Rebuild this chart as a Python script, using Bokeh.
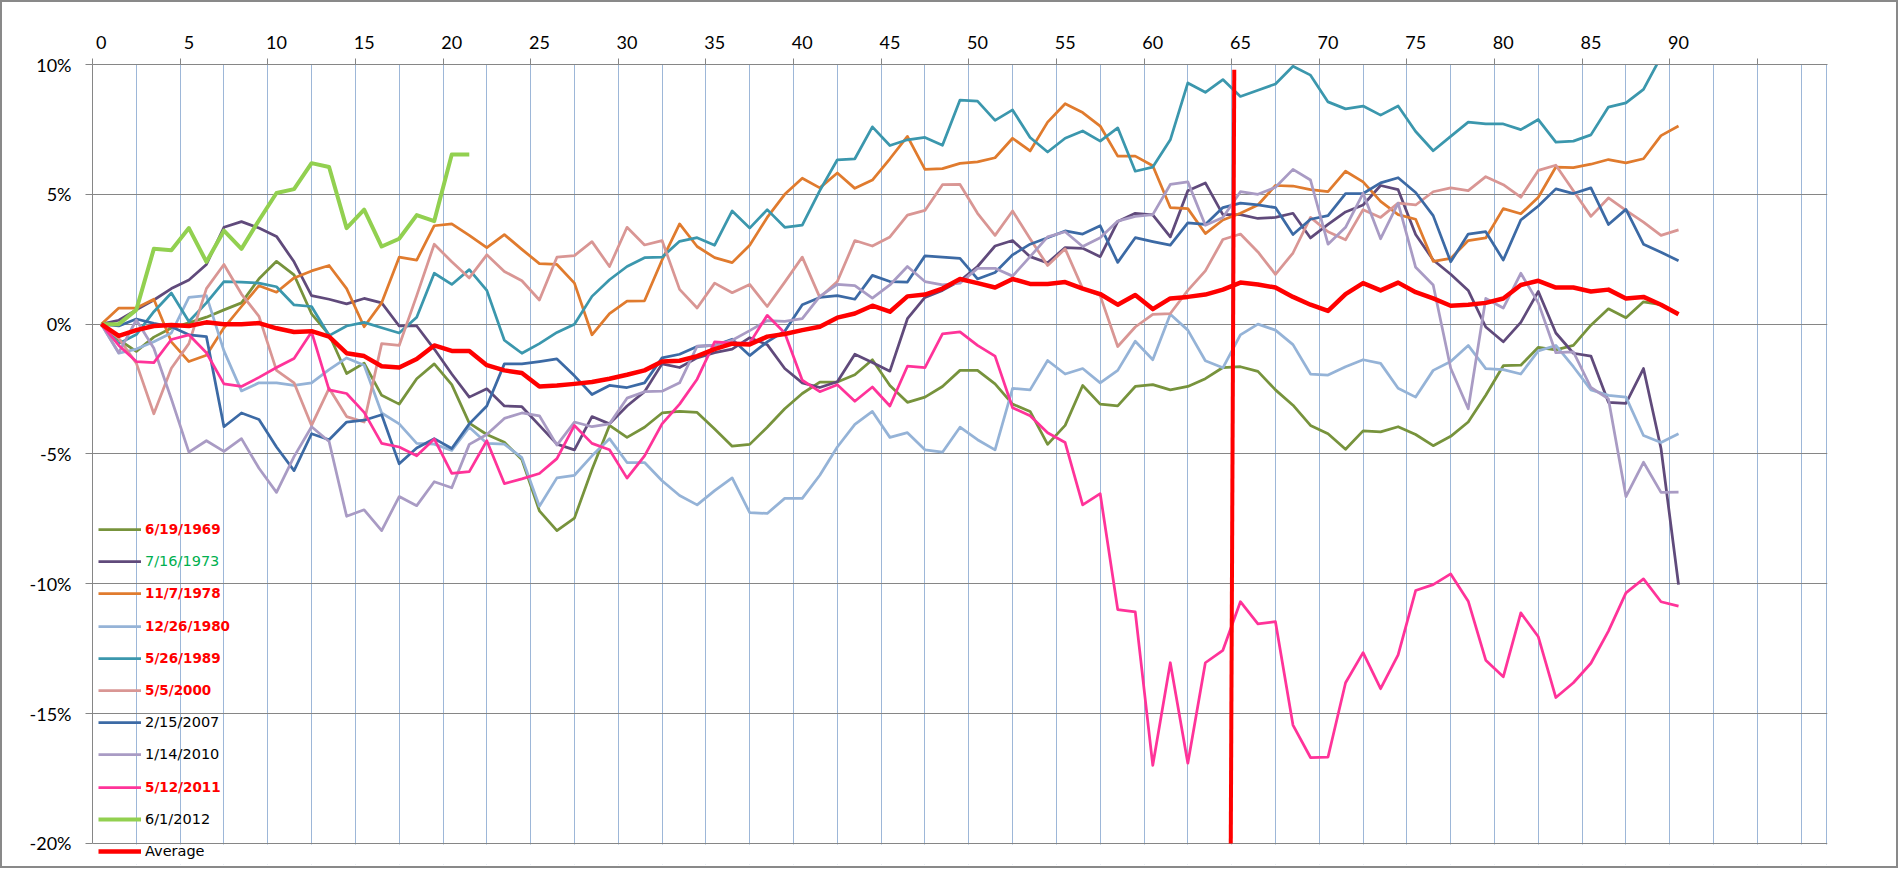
from bokeh.plotting import figure
from bokeh.layouts import column
from bokeh.models import Range1d, FixedTicker, Legend, LegendItem, BoxAnnotation
from bokeh.embed import file_html
from bokeh.resources import INLINE

# trading days after the start date
days = list(range(91))

# percent change from the start date
s1969 = [0, -0.6, -1.05, -0.5, -0.15, 0.05, 0.27, 0.55, 0.82, 1.75, 2.42, 1.9, 0.4, -0.4, -1.9, -1.5,
         -2.74, -3.08, -2.1, -1.53, -2.33, -3.81, -4.25, -4.55, -5.21, -7.19, -7.95, -7.47, -5.6, -3.9,
         -4.36, -3.97, -3.42, -3.36, -3.4, -4.04, -4.7, -4.63, -3.97, -3.26, -2.67, -2.23, -2.23, -1.95,
         -1.37, -2.36, -3.01, -2.81, -2.4, -1.78, -1.78, -2.3, -3.08, -3.36, -4.63, -3.9, -2.36, -3.08,
         -3.15, -2.4, -2.33, -2.53, -2.4, -2.1, -1.67, -1.64, -1.82, -2.53, -3.12, -3.9, -4.22, -4.82,
         -4.11, -4.15, -3.95, -4.25, -4.68, -4.32, -3.77, -2.74, -1.6, -1.58, -0.89, -0.99, -0.82, -0.04,
         0.59, 0.25, 0.86, 0.75, 0.41]
s1973 = [0, 0.15, 0.55, 0.93, 1.37, 1.7, 2.3, 3.73, 3.95, 3.7, 3.38, 2.4, 1.1, 0.96, 0.78, 0.99, 0.82,
         -0.07, -0.07, -0.96, -1.92, -2.81, -2.49, -3.15, -3.18, -3.9, -4.62, -4.84, -3.56, -3.84, -3.15,
         -2.6, -1.53, -1.67, -1.3, -1.1, -0.96, -0.52, -0.79, -1.71, -2.26, -2.44, -2.22, -1.16, -1.48,
         -1.81, 0.21, 1.03, 1.3, 1.67, 2.22, 3.01, 3.22, 2.6, 2.36, 2.95, 2.92, 2.6, 3.95, 4.27, 4.21,
         3.36, 5.14, 5.44, 4.22, 4.22, 4.07, 4.11, 4.27, 3.32, 3.84, 4.32, 4.59, 5.34, 5.18, 3.45, 2.47,
         1.92, 1.3, -0.11, -0.68, 0.07, 1.26, -0.34, -1.12, -1.23, -3.01, -3.05, -1.71, -4.79, -10.03]
s1978 = [0, 0.62, 0.62, 0.96, -0.68, -1.44, -1.2, -0.14, 0.68, 1.48, 1.23, 1.78, 2.05, 2.26, 1.37, -0.1,
         0.82, 2.58, 2.47, 3.79, 3.86, 3.42, 2.95, 3.45, 2.88, 2.33, 2.3, 1.58, -0.41, 0.41, 0.89, 0.9,
         2.47, 3.86, 2.99, 2.56, 2.37, 3.04, 4.11, 5.0, 5.62, 5.25, 5.82, 5.23, 5.55, 6.37, 7.23, 5.96,
         5.99, 6.19, 6.25, 6.41, 7.16, 6.67, 7.78, 8.49, 8.15, 7.63, 6.47, 6.47, 6.1, 4.49, 4.45, 3.49,
         4.01, 4.27, 4.59, 5.34, 5.32, 5.18, 5.1, 5.89, 5.48, 4.73, 4.22, 4.04, 2.42, 2.53, 3.22, 3.32,
         4.45, 4.25, 4.89, 6.05, 6.03, 6.16, 6.34, 6.21, 6.37, 7.26, 7.63]
s1980 = [0, -1.12, -0.96, -0.68, -0.34, 1.03, 1.1, -1.03, -2.57, -2.26, -2.26, -2.36, -2.26, -1.75, -1.3,
         -1.58, -3.42, -3.84, -4.59, -4.62, -4.86, -3.97, -4.59, -4.62, -5.14, -7.01, -5.92, -5.82, -5.07,
         -4.41, -5.33, -5.33, -6.03, -6.6, -6.96, -6.41, -5.92, -7.26, -7.29, -6.71, -6.71, -5.82, -4.73,
         -3.86, -3.36, -4.36, -4.18, -4.84, -4.93, -3.97, -4.45, -4.84, -2.47, -2.53, -1.4, -1.92, -1.71,
         -2.26, -1.78, -0.66, -1.37, 0.38, -0.23, -1.41, -1.68, -0.41, 0.0, -0.23, -0.79, -1.92, -1.96,
         -1.64, -1.37, -1.51, -2.47, -2.81, -1.78, -1.44, -0.82, -1.71, -1.75, -1.92, -1.03, -0.82, -1.64,
         -2.53, -2.74, -2.81, -4.29, -4.56, -4.22]
s1989 = [0, -0.75, -0.4, 0.48, 1.2, 0.1, 0.82, 1.64, 1.62, 1.58, 1.44, 0.74, 0.68, -0.44, -0.07, 0.07,
         -0.14, -0.34, 0.27, 1.96, 1.53, 2.1, 1.3, -0.62, -1.12, -0.75, -0.32, 0.0, 1.07, 1.71, 2.22, 2.56,
         2.58, 3.19, 3.33, 3.04, 4.36, 3.7, 4.41, 3.73, 3.81, 5.14, 6.33, 6.37, 7.6, 6.88, 7.1, 7.19, 6.89,
         8.63, 8.59, 7.85, 8.25, 7.19, 6.63, 7.16, 7.44, 7.05, 7.56, 5.89, 6.05, 7.1, 9.29, 8.93, 9.42,
         8.77, 9.01, 9.25, 9.93, 9.59, 8.56, 8.29, 8.4, 8.05, 8.4, 7.42, 6.68, 7.23, 7.78, 7.71, 7.71,
         7.49, 7.88, 7.01, 7.05, 7.29, 8.36, 8.52, 9.04, 10.3, 10.9]
s2000 = [0, -0.55, -1.5, -3.45, -1.7, -0.75, 1.37, 2.3, 1.16, 0.3, -1.78, -2.26, -3.9, -2.47, -3.56, -3.77,
         -0.75, -0.82, 1.1, 3.08, 2.4, 1.78, 2.67, 2.03, 1.67, 0.93, 2.58, 2.64, 3.18, 2.22, 3.73, 3.05,
         3.22, 1.34, 0.62, 1.58, 1.21, 1.53, 0.68, 1.62, 2.58, 1.03, 1.64, 3.22, 3.01, 3.36, 4.2, 4.38,
         5.37, 5.38, 4.27, 3.42, 4.36, 3.29, 2.26, 2.9, 1.37, 1.1, -0.86, -0.11, 0.38, 0.41, 1.3, 2.05,
         3.26, 3.47, 2.78, 1.92, 2.74, 4.11, 3.56, 3.25, 4.41, 4.11, 4.66, 4.59, 5.1, 5.25, 5.14, 5.68,
         5.37, 4.89, 5.92, 6.12, 5.14, 4.15, 4.86, 4.38, 3.93, 3.42, 3.63]
s2007 = [0, -0.07, 0.2, 0.03, -0.1, -0.41, -0.48, -3.95, -3.42, -3.67, -4.73, -5.64, -4.22, -4.45, -3.77,
         -3.7, -3.49, -5.38, -4.77, -4.41, -4.79, -3.84, -3.15, -1.53, -1.53, -1.44, -1.34, -1.99, -2.71,
         -2.36, -2.44, -2.26, -1.3, -1.16, -0.86, -0.82, -0.58, -1.21, -0.68, -0.27, 0.75, 1.03, 1.1, 0.96,
         1.88, 1.64, 1.62, 2.63, 2.58, 2.53, 1.74, 1.99, 2.67, 3.08, 3.33, 3.59, 3.47, 3.79, 2.38, 3.33,
         3.18, 3.04, 3.9, 3.84, 4.49, 4.66, 4.59, 4.49, 3.45, 4.04, 4.18, 5.03, 5.03, 5.44, 5.64, 5.07,
         4.18, 2.4, 3.47, 3.56, 2.47, 4.01, 4.55, 5.21, 5.03, 5.25, 3.84, 4.42, 3.08, 2.77, 2.44]
s2010 = [0, -1.1, 0.16, -0.93, -2.88, -4.93, -4.49, -4.9, -4.41, -5.55, -6.48, -5.1, -3.95, -4.52, -7.4,
         -7.15, -7.95, -6.64, -6.99, -6.07, -6.3, -4.63, -4.25, -3.63, -3.42, -3.53, -4.66, -3.77, -3.95,
         -3.84, -2.85, -2.6, -2.58, -2.26, -0.85, -0.82, -0.62, -0.25, 0.14, 0.11, 0.21, 1.07, 1.53, 1.48,
         1.0, 1.51, 2.22, 1.64, 1.51, 1.58, 2.15, 2.15, 1.85, 2.6, 3.36, 3.56, 2.99, 3.33, 3.97, 4.15, 4.22,
         5.38, 5.48, 3.81, 4.11, 5.1, 5.0, 5.27, 5.96, 5.55, 3.08, 3.73, 5.04, 3.29, 4.66, 2.19, 1.51, -1.7,
         -3.26, 0.99, 0.62, 1.96, 0.82, -1.1, -1.07, -2.44, -2.88, -6.64, -5.32, -6.48, -6.47]
s2011 = [0, -0.82, -1.44, -1.48, -0.59, -0.41, -1.1, -2.3, -2.4, -2.05, -1.67, -1.32, -0.3, -2.53, -2.67,
         -3.4, -4.59, -4.73, -5.07, -4.42, -5.75, -5.68, -4.49, -6.14, -5.96, -5.75, -5.18, -3.9, -4.59,
         -4.84, -5.93, -5.07, -3.84, -3.08, -2.12, -0.68, -0.73, -0.73, 0.34, -0.34, -2.16, -2.6, -2.33,
         -2.97, -2.42, -3.15, -1.62, -1.67, -0.37, -0.3, -0.82, -1.23, -3.22, -3.53, -4.18, -4.56, -6.96,
         -6.53, -10.99, -11.08, -16.99, -13.04, -16.91, -13.04, -12.56, -10.69, -11.54, -11.46, -15.44,
         -16.69, -16.67, -13.81, -12.65, -14.04, -12.74, -10.26, -10.03, -9.62, -10.67, -12.94, -13.58,
         -11.12, -12.04, -14.38, -13.81, -13.06, -11.82, -10.35, -9.81, -10.69, -10.86]
s2012 = [0, 0, 0.55, 2.9, 2.85, 3.7, 2.4, 3.6, 2.9, 4.0, 5.05, 5.2, 6.2, 6.05, 3.7, 4.41, 2.99, 3.29,
         4.2, 3.97, 6.53, 6.53]
average = [0, -0.45, -0.23, -0.07, -0.03, -0.07, 0.07, 0.0, 0.0, 0.04, -0.16, -0.3, -0.27, -0.48, -1.12,
           -1.23, -1.62, -1.67, -1.34, -0.82, -1.03, -1.03, -1.58, -1.78, -1.88, -2.4, -2.36, -2.3, -2.23,
           -2.1, -1.95, -1.78, -1.44, -1.41, -1.23, -0.96, -0.75, -0.78, -0.48, -0.38, -0.23, -0.1, 0.25,
           0.41, 0.71, 0.48, 1.07, 1.14, 1.37, 1.74, 1.58, 1.41, 1.74, 1.55, 1.55, 1.62, 1.37, 1.16, 0.75,
           1.12, 0.58, 0.99, 1.05, 1.14, 1.33, 1.6, 1.53, 1.41, 1.05, 0.75, 0.51, 1.16, 1.58, 1.3, 1.6,
           1.23, 0.99, 0.71, 0.75, 0.82, 0.99, 1.51, 1.67, 1.41, 1.41, 1.26, 1.33, 0.99, 1.05, 0.75, 0.38]

labels = ["6/19/1969", "7/16/1973", "11/7/1978", "12/26/1980", "5/26/1989", "5/5/2000",
          "2/15/2007", "1/14/2010", "5/12/2011", "6/1/2012", "Average"]
series = [s1969, s1973, s1978, s1980, s1989, s2000, s2007, s2010, s2011, s2012, average]

# hand-drawn marker line at day ~64.5
marker_x = [64.65, 64.45]
marker_y = [9.8, -20]

y_ticks = [-20, -15, -10, -5, 0, 5, 10]
x_label_ticks = list(range(0, 91, 5))

colors = ["#77933C", "#604A7B", "#E07B2E", "#95B3D7", "#3B97AD", "#D99694",
          "#3C6AA5", "#A99BC4", "#FF3399", "#92D050", "#FF0000"]
widths = [2.75] * 9 + [4, 4.5]
label_colors = ["#FF0000", "#00B050", "#FF0000", "#FF0000", "#FF0000", "#FF0000",
                "#000000", "#000000", "#FF0000", "#000000", "#000000"]
label_bold = [True, False, True, True, True, True, False, False, True, False, False]

GRAY = "#868686"

# plot area spans a little below -20% so the last legend row fits inside it
p = figure(width=1894, height=864, x_range=Range1d(-0.5, 98.5), y_range=Range1d(-20.81, 10),
           x_axis_location="above", output_backend="svg", toolbar_location=None,
           min_border_left=90, min_border_right=69, min_border_top=62, min_border_bottom=2)
p.outline_line_color = None

# category axis on top: labels every 5, tick marks between categories
p.xaxis.ticker = FixedTicker(ticks=x_label_ticks,
                             minor_ticks=[t - 0.5 for t in range(0, 100, 5)])
p.xaxis.axis_line_color = GRAY
p.xaxis.major_tick_out = 0
p.xaxis.major_tick_in = 0
p.xaxis.minor_tick_out = 6
p.xaxis.minor_tick_in = 0
p.xaxis.minor_tick_line_color = GRAY
p.xaxis.major_label_standoff = 10
p.xaxis.major_label_text_font = "Lato"
p.xaxis.major_label_text_font_size = "18px"
p.xaxis.major_label_text_color = "#000000"

p.yaxis.ticker = FixedTicker(ticks=y_ticks)
p.yaxis.major_label_overrides = {t: f"{t}%" for t in y_ticks}
p.yaxis.bounds = (-20, 10)
p.yaxis.axis_line_color = GRAY
p.yaxis.major_tick_line_color = GRAY
p.yaxis.major_tick_out = 7
p.yaxis.major_tick_in = 0
p.yaxis.minor_tick_line_color = None
p.yaxis.major_label_standoff = 14
p.yaxis.major_label_text_font = "Lato"
p.yaxis.major_label_text_font_size = "18px"
p.yaxis.major_label_text_color = "#000000"

p.xgrid.ticker = FixedTicker(ticks=[2 + 2.5 * k for k in range(39)] + [98.45])
p.xgrid.grid_line_color = "#9DB7D8"
p.ygrid.ticker = FixedTicker(ticks=y_ticks)
p.ygrid.grid_line_color = GRAY

# blank out the grid below the -20% line
p.add_layout(BoxAnnotation(top=-20.04, fill_color="white", fill_alpha=1, line_alpha=0, level="guide"))

renderers = []
for vals, color, w in zip(series, colors, widths):
    r = p.line(days[:len(vals)], vals, line_color=color, line_width=w, line_join="round")
    renderers.append(r)

p.line(marker_x, marker_y, line_color="#FF0000", line_width=4)

# one legend per entry so each label can have its own colour
for i, (lab, r) in enumerate(zip(labels, renderers)):
    center = 529 + 32.2 * i
    leg = Legend(items=[LegendItem(label=lab, renderers=[r])],
                 location=(6, 864 - center - 8),
                 padding=0, margin=0, spacing=0,
                 glyph_width=43, glyph_height=16, label_height=16, label_standoff=4,
                 background_fill_alpha=0, border_line_alpha=0,
                 label_text_font="DejaVu Sans",
                 label_text_font_size="13.5px" if label_bold[i] else "14.5px",
                 label_text_font_style="bold" if label_bold[i] else "normal",
                 label_text_color=label_colors[i])
    p.add_layout(leg)

page = column(p, styles={"border": "2px solid #898989"})
open("out.html", "w").write(file_html(page, INLINE))
